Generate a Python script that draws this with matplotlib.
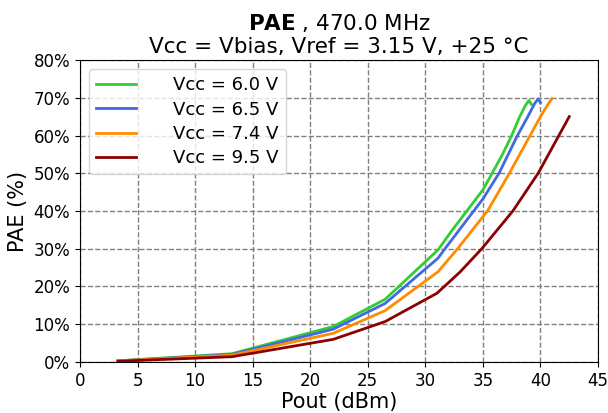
import matplotlib
matplotlib.use("Agg")
import matplotlib.pyplot as plt
from matplotlib.ticker import PercentFormatter

# PAE curves
pout_60 = [3.3, 13.2, 22.0, 26.5, 31.1, 32.3, 33.6, 35.0, 35.8, 36.7, 37.5, 38.2, 38.7, 39.0, 39.2]
pae_60 = [0.3, 2.2, 9.4, 16.6, 29.7, 34.8, 40.0, 45.6, 50.0, 55.0, 60.0, 65.0, 68.0, 69.3, 68.3]

pout_65 = [3.3, 13.2, 22.0, 26.5, 31.1, 31.7, 34.2, 35.0, 36.4, 37.2, 38.0, 38.9, 39.5, 39.8, 40.0]
pae_65 = [0.3, 2.0, 8.7, 15.5, 27.5, 30.0, 40.0, 43.2, 50.0, 55.0, 60.0, 65.0, 68.5, 69.7, 68.7]

pout_74 = [3.3, 13.2, 22.0, 26.5, 31.1, 32.8, 35.0, 35.4, 37.3, 38.2, 39.1, 40.0, 40.6, 41.0]
pae_74 = [0.3, 1.8, 7.6, 13.6, 23.9, 30.0, 38.5, 40.0, 50.0, 55.0, 60.0, 65.0, 68.0, 69.8]

pout_95 = [3.3, 13.2, 22.0, 26.5, 31.0, 33.0, 34.9, 37.6, 39.8, 41.6, 42.5]
pae_95 = [0.2, 1.4, 6.0, 10.7, 18.2, 23.8, 30.0, 40.0, 50.0, 60.0, 65.0]

labels = ["Vcc = 6.0 V", "Vcc = 6.5 V", "Vcc = 7.4 V", "Vcc = 9.5 V"]
colors = ["limegreen", "royalblue", "darkorange", "darkred"]

fig, ax = plt.subplots(figsize=(6.08, 4.13), dpi=100)
fig.subplots_adjust(left=0.1316, right=0.9836, top=0.8547, bottom=0.1235)

curves = [(pout_60, pae_60), (pout_65, pae_65), (pout_74, pae_74), (pout_95, pae_95)]
for (x, y), lab, c in zip(curves, labels, colors):
    ax.plot(x, y, color=c, lw=2, label="    " + lab)

ax.set_xlim(0, 45)
ax.set_ylim(0, 80)
ax.set_xticks(range(0, 46, 5))
ax.set_yticks(range(0, 81, 10))
ax.yaxis.set_major_formatter(PercentFormatter(decimals=0))
ax.tick_params(labelsize=12)
ax.grid(True, linestyle="--", color="gray", lw=1)

ax.set_xlabel("Pout (dBm)", fontsize=15, labelpad=2)
ax.set_ylabel("PAE (%)", fontsize=15)
ax.set_title(r"$\bf{PAE}$ , 470.0 MHz" + "\nVcc = Vbias, Vref = 3.15 V, +25 °C", fontsize=15.5, pad=5)

ax.legend(loc="upper left", fontsize=13, handlelength=2.2, labelspacing=0.35)

fig.savefig("out.png", dpi=100)
